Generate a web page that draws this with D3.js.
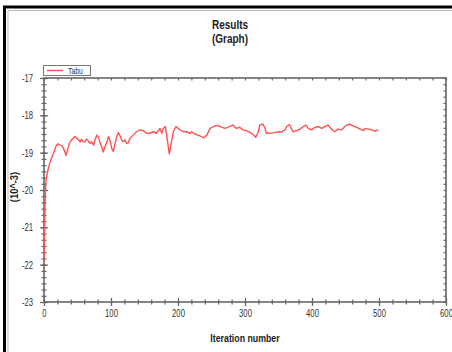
<!DOCTYPE html>
<html><head><meta charset="utf-8">
<script src="https://cdn.jsdelivr.net/npm/d3@7"></script>
<style>
body{margin:0;background:#fff}
svg{display:block}
text{font-family:"Liberation Sans",Arial,sans-serif}
</style>
</head><body>
<svg id="chart" width="452" height="352"></svg>
<script>
// Tabu search objective value (x 10^-3) per iteration
const iterations = [0,1,2,3,5,7,10,14,18,21,24,27,29,31,33,35,38,41,46,49,51,54,56,58,61,63,65,67,69,71,74,76,79,81,84,86,88.5,91,94,96,98.5,101,103.5,106,108.5,111,113,116,118,121,123,126,128,133,138,143,148,153,158,163,168,173,176,178,181,183,185.5,187,189,193,197,203,208,213,218,220,225,230,235,239,243,248,253,258,263,270,277,282,287,292,297,302,307,312,316,320,322,327,330,332,337,342,347,352,355,357,360,362,365,367,370,372,377,382,387,391,394.5,399.5,404.5,409.5,414.5,419.5,424,429,434,439,444,449,452,457,462,467,472,477,479,484,489,494,499];
const costs = [-21.9,-20.8,-20.1,-19.75,-19.55,-19.38,-19.2,-19.02,-18.82,-18.76,-18.8,-18.82,-18.88,-18.97,-19.08,-18.93,-18.75,-18.66,-18.57,-18.62,-18.64,-18.71,-18.64,-18.7,-18.71,-18.64,-18.66,-18.72,-18.75,-18.71,-18.8,-18.66,-18.53,-18.57,-18.75,-18.84,-18.98,-18.84,-18.71,-18.57,-18.66,-18.88,-18.97,-18.75,-18.57,-18.46,-18.53,-18.66,-18.71,-18.66,-18.75,-18.73,-18.62,-18.53,-18.44,-18.39,-18.41,-18.48,-18.48,-18.44,-18.48,-18.35,-18.48,-18.35,-18.3,-18.53,-18.84,-19.03,-18.84,-18.44,-18.3,-18.39,-18.44,-18.44,-18.48,-18.44,-18.5,-18.53,-18.57,-18.6,-18.53,-18.35,-18.3,-18.27,-18.3,-18.35,-18.3,-18.26,-18.35,-18.32,-18.39,-18.41,-18.45,-18.51,-18.59,-18.44,-18.26,-18.24,-18.35,-18.48,-18.48,-18.47,-18.45,-18.44,-18.45,-18.41,-18.39,-18.3,-18.26,-18.26,-18.39,-18.44,-18.41,-18.37,-18.3,-18.26,-18.35,-18.39,-18.32,-18.3,-18.35,-18.3,-18.26,-18.37,-18.44,-18.37,-18.39,-18.3,-18.26,-18.24,-18.29,-18.32,-18.37,-18.41,-18.35,-18.37,-18.39,-18.42,-18.39];
const xTicks = [0,100,200,300,400,500,600];
const yTicks = [-23,-22,-21,-20,-19,-18,-17];
const seriesName = "Tabu";
const titleLines = ["Results","(Graph)"];
const xLabel = "Iteration number";
const yLabel = "(10^-3)";

const svg = d3.select("#chart");
const x = d3.scaleLinear().domain([0,600]).range([44,446]);
const y = d3.scaleLinear().domain([-23,-17]).range([302,78]);
const axisColor = "#666";
const lineColor = "#ff5252";
const squeeze = 0.8;      // horizontal squeeze for a narrow face
const tickSqueeze = 0.7;  // tick numbers are narrower still
const intFmt = d => String(Math.round(d));   // plain hyphen minus sign

// free text drawn at (px,py) with narrow glyphs
function label(px, py, txt, opts){
  const t = svg.append("text")
    .attr("transform", `translate(${px},${py})${opts.rotate ? " rotate(" + opts.rotate + ")" : ""} scale(${opts.k || squeeze},1)`)
    .attr("text-anchor", opts.anchor || "middle")
    .attr("font-size", opts.size)
    .attr("fill", opts.fill || "#222")
    .text(txt);
  if (opts.bold) t.attr("font-weight","bold");
  return t;
}

// outer frame
svg.append("rect").attr("width",452).attr("height",352).attr("fill","#fff");
svg.append("path").attr("d","M4.5,352V7H452").attr("fill","none").attr("stroke","#000").attr("stroke-width",3);
svg.append("path").attr("d","M8,352V10.5H452").attr("fill","none").attr("stroke","#bbb").attr("stroke-width",1);

// title
titleLines.forEach((s,i)=>label(230, 29 + i*14, s, {size:12.5, bold:true}));

// minor tick values
const xMinor = d3.range(0,601,20);
const yMinor = d3.range(0,37).map(k=>-23+k/6);

function styleAxis(g){
  g.select(".domain").remove();
  g.selectAll("line").attr("stroke",axisColor).attr("stroke-width",1.2);
  g.selectAll("text").attr("fill","#333").attr("font-size",11)
    .attr("transform",`scale(${tickSqueeze},1)`);
}

// bottom axis: labels + ticks crossing the line
svg.append("g").attr("transform","translate(0,302)")
  .call(d3.axisBottom(x).tickValues(xTicks).tickSize(4).tickPadding(3).tickFormat(intFmt))
  .call(styleAxis);
svg.append("g").attr("transform","translate(0,302)")
  .call(d3.axisTop(x).tickValues(xTicks).tickSize(4).tickFormat(""))
  .call(styleAxis);
svg.append("g").attr("transform","translate(0,302)")
  .call(d3.axisBottom(x).tickValues(xMinor).tickSizeInner(2.5).tickSizeOuter(0).tickFormat(""))
  .call(styleAxis);
svg.append("g").attr("transform","translate(0,302)")
  .call(d3.axisTop(x).tickValues(xMinor).tickSizeInner(2.5).tickSizeOuter(0).tickFormat(""))
  .call(styleAxis);

// left axis
svg.append("g").attr("transform","translate(44,0)")
  .call(d3.axisLeft(y).tickValues(yTicks).tickSize(4).tickPadding(11.5).tickFormat(intFmt))
  .call(styleAxis);
svg.append("g").attr("transform","translate(44,0)")
  .call(d3.axisRight(y).tickValues(yTicks).tickSize(4).tickFormat(""))
  .call(styleAxis);
svg.append("g").attr("transform","translate(44,0)")
  .call(d3.axisLeft(y).tickValues(yMinor).tickSizeInner(2.5).tickSizeOuter(0).tickFormat(""))
  .call(styleAxis);
svg.append("g").attr("transform","translate(44,0)")
  .call(d3.axisRight(y).tickValues(yMinor).tickSizeInner(2.5).tickSizeOuter(0).tickFormat(""))
  .call(styleAxis);

// top and right axes: inward ticks only
svg.append("g").attr("transform","translate(0,78)")
  .call(d3.axisBottom(x).tickValues(xMinor).tickSizeInner(2.5).tickSizeOuter(0).tickFormat(""))
  .call(styleAxis);
svg.append("g").attr("transform","translate(446,0)")
  .call(d3.axisLeft(y).tickValues(yMinor).tickSizeInner(2.5).tickSizeOuter(0).tickFormat(""))
  .call(styleAxis);

// plot box
svg.append("rect").attr("x",x(0)).attr("y",y(-17))
  .attr("width",x(600)-x(0)).attr("height",y(-23)-y(-17))
  .attr("fill","none").attr("stroke",axisColor).attr("stroke-width",1.6);

// series line
const pts = iterations.map((it,i)=>[it,costs[i]]);
svg.append("path").datum(pts)
  .attr("fill","none").attr("stroke",lineColor).attr("stroke-width",1.4)
  .attr("stroke-linejoin","round")
  .attr("d",d3.line().x(d=>x(d[0])).y(d=>y(d[1])));

// axis titles
label(245, 342, xLabel, {size:11, bold:true});
label(17.5, 187, yLabel, {size:11, bold:true, rotate:-90, k:0.85});

// legend
const lg = svg.append("g");
lg.append("rect").attr("x",43.5).attr("y",65.5).attr("width",47).attr("height",10)
  .attr("fill","#fff").attr("stroke","#777").attr("stroke-width",1);
lg.append("line").attr("x1",47).attr("x2",63).attr("y1",70.5).attr("y2",70.5)
  .attr("stroke",lineColor).attr("stroke-width",1.4);
label(68, 73.5, seriesName, {size:8.5, anchor:"start", fill:"#333"});
</script>
</body></html>
